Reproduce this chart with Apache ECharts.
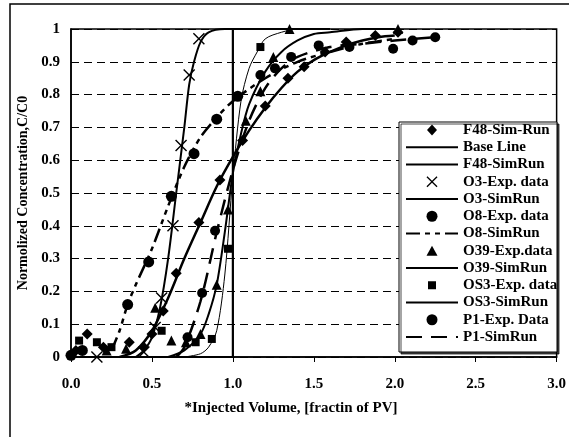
<!DOCTYPE html>
<html>
<head>
<meta charset="utf-8">
<script src="https://cdn.jsdelivr.net/npm/echarts@6/dist/echarts.min.js"></script>
<style>
  html, body { margin: 0; padding: 0; background: #fff; }
  #chart { width: 569px; height: 437px; }
</style>
</head>
<body>
<div id="chart"></div>
<script>
var xTicks = [0, 0.5, 1.0, 1.5, 2.0, 2.5, 3.0];
var yTicks = [0, 0.1, 0.2, 0.3, 0.4, 0.5, 0.6, 0.7, 0.8, 0.9, 1];

var f48Exp = [[0.03, 0.02], [0.1, 0.07], [0.2, 0.03], [0.36, 0.045], [0.45, 0.03], [0.5, 0.07],
  [0.57, 0.14], [0.65, 0.255], [0.79, 0.41], [0.92, 0.54], [1.06, 0.66], [1.2, 0.765],
  [1.34, 0.85], [1.44, 0.885], [1.57, 0.93], [1.7, 0.96], [1.88, 0.98], [2.02, 0.99]];
var baseLine = [[0, 0], [1.0, 0], [1.0, 1.0], [1.6, 1.0]];
var f48Sim = [[0.3, 0], [0.4, 0.02], [0.5, 0.08], [0.6, 0.18], [0.7, 0.3], [0.8, 0.41], [0.9, 0.52],
  [1.0, 0.61], [1.1, 0.69], [1.2, 0.76], [1.3, 0.82], [1.4, 0.87], [1.5, 0.905], [1.6, 0.93],
  [1.7, 0.95], [1.8, 0.965], [1.9, 0.975], [2.0, 0.98]];
var o3Exp = [[0.16, 0], [0.45, 0.015], [0.52, 0.09], [0.56, 0.18], [0.63, 0.4], [0.68, 0.645],
  [0.73, 0.86], [0.79, 0.97]];
var o3Sim = [[0.4, 0], [0.45, 0.02], [0.5, 0.06], [0.55, 0.15], [0.6, 0.3], [0.65, 0.5], [0.7, 0.7],
  [0.73, 0.83], [0.76, 0.9], [0.8, 0.96], [0.85, 0.99], [0.95, 1.0], [1.1, 1.0]];
var o8Exp = [[0.0, 0.005], [0.07, 0.02], [0.35, 0.16], [0.48, 0.29], [0.62, 0.49], [0.76, 0.62],
  [0.9, 0.725], [1.03, 0.795]];
var o8Sim = [[0.25, 0.02], [0.3, 0.08], [0.35, 0.16], [0.4, 0.22], [0.5, 0.33], [0.6, 0.46],
  [0.7, 0.58], [0.8, 0.67], [0.9, 0.73], [1.0, 0.78], [1.2, 0.85], [1.4, 0.9], [1.6, 0.93],
  [1.8, 0.955], [2.0, 0.97]];
var o39Exp = [[0.22, 0.02], [0.34, 0.025], [0.52, 0.15], [0.62, 0.05], [0.71, 0.045], [0.8, 0.07],
  [0.9, 0.22], [0.97, 0.45], [1.08, 0.72], [1.17, 0.81], [1.25, 0.915], [1.35, 1.0], [2.02, 1.0]];
var o39Sim = [[0.6, 0], [0.7, 0.02], [0.8, 0.07], [0.85, 0.13], [0.9, 0.22], [0.95, 0.38], [1.0, 0.56],
  [1.05, 0.68], [1.1, 0.77], [1.2, 0.87], [1.3, 0.93], [1.4, 0.965], [1.5, 0.985], [1.6, 0.99],
  [1.8, 1.0], [2.0, 1.0]];
var os3Exp = [[0.05, 0.05], [0.16, 0.045], [0.25, 0.03], [0.56, 0.08], [0.77, 0.045], [0.87, 0.055],
  [0.97, 0.33], [1.17, 0.945]];
var os3Sim = [[0.7, 0], [0.8, 0.01], [0.85, 0.03], [0.9, 0.08], [0.95, 0.25], [1.0, 0.55], [1.05, 0.78],
  [1.1, 0.88], [1.15, 0.93], [1.2, 0.97], [1.3, 0.99], [1.4, 1.0], [1.6, 1.0]];
var p1Exp = [[0.72, 0.06], [0.81, 0.195], [0.89, 0.385], [1.17, 0.86], [1.26, 0.88], [1.36, 0.915],
  [1.53, 0.95], [1.72, 0.945], [1.99, 0.94], [2.11, 0.965], [2.25, 0.975]];
var p1Sim = [[0.65, 0], [0.7, 0.03], [0.8, 0.17], [0.9, 0.38], [1.0, 0.57], [1.1, 0.72], [1.2, 0.82],
  [1.3, 0.88], [1.4, 0.915], [1.6, 0.945], [1.8, 0.955], [2.0, 0.965], [2.25, 0.975]];

var FONT = '"Liberation Serif", "Times New Roman", serif';
var crossPath = 'path://M0,1L1,0L6,5L11,0L12,1L7,6L12,11L11,12L6,7L1,12L0,11L5,6Z';
// legend icons padded to the 52x11 legend slot so the marker keeps its shape
var PAD = 'M0,0L0,0M52,11L52,11';
var legendIcons = {
  diamond: 'path://' + PAD + 'M26,0L31,5.5L26,11L21,5.5Z',
  triangle: 'path://' + PAD + 'M26,0.5L31.5,10.5L20.5,10.5Z',
  rect: 'path://' + PAD + 'M22,1.5L30,1.5L30,9.5L22,9.5Z'
};

var legendItems = [];

function simLine(name, data, width, type) {
  legendItems.push({ name: name, itemStyle: { color: 'rgba(0,0,0,0)', borderWidth: 0, opacity: 0 } });
  return {
    name: name, type: 'line', data: data, smooth: name !== 'Base Line' ? 0.3 : false,
    symbol: 'none', z: 2,
    lineStyle: { color: '#000', width: width, type: type || 'solid' },
    itemStyle: { color: '#000' }
  };
}
function expPoints(name, data, symbol, size) {
  var item = { name: name };
  if (legendIcons[symbol]) item.icon = legendIcons[symbol];
  legendItems.push(item);
  return {
    name: name, type: 'scatter', data: data, symbol: symbol, symbolSize: size, z: 3,
    symbolKeepAspect: true,
    itemStyle: { color: '#000', opacity: 1 }
  };
}

var series = [
  expPoints('F48-Sim-Run', f48Exp, 'diamond', 11),
  simLine('Base Line', baseLine, 2.2),
  simLine('F48-SimRun', f48Sim, 2.5),
  expPoints('O3-Exp. data', o3Exp, crossPath, 12),
  simLine('O3-SimRun', o3Sim, 2),
  expPoints('O8-Exp. data', o8Exp, 'circle', 11),
  simLine('O8-SimRun', o8Sim, 2.5, [14, 5, 5, 5, 5, 5]),
  expPoints('O39-Exp.data', o39Exp, 'triangle', 10),
  simLine('O39-SimRun', o39Sim, 2),
  expPoints('OS3-Exp. data', os3Exp, 'rect', 8),
  simLine('OS3-SimRun', os3Sim, 1),
  expPoints('P1-Exp. Data', p1Exp, 'circle', 10),
  simLine('P1-SimRun', p1Sim, 2.5, [16, 9])
];

var chart = echarts.init(document.getElementById('chart'), null, { renderer: 'canvas' });
chart.setOption({
  backgroundColor: '#fff',
  animation: false,
  grid: { left: 71, top: 29, right: 7, bottom: 80, show: true, borderColor: '#000', borderWidth: 1.5 },
  xAxis: {
    type: 'value', min: 0, max: 3, interval: 0.5,
    axisLine: { show: true, lineStyle: { color: '#000', width: 1.5 } },
    axisTick: { show: true, length: 5, lineStyle: { color: '#000' } },
    splitLine: { show: false },
    axisLabel: {
      margin: 20, color: '#000', fontFamily: FONT, fontWeight: 'bold', fontSize: 15,
      formatter: function (v) { return xTicks.indexOf(v) >= 0 ? v.toFixed(1) : ''; }
    }
  },
  yAxis: {
    type: 'value', min: 0, max: 1, interval: 0.1,
    name: 'Normolized Concentration,C/C0', nameLocation: 'middle', nameGap: 39,
    nameTextStyle: { color: '#000', fontFamily: FONT, fontWeight: 'bold', fontSize: 14 },
    axisLine: { show: true, lineStyle: { color: '#000', width: 1.5 } },
    axisTick: { show: false },
    splitLine: { show: true, lineStyle: { color: '#000', width: 1, type: [8, 5] } },
    axisLabel: {
      margin: 11, color: '#000', fontFamily: FONT, fontWeight: 'bold', fontSize: 15,
      formatter: function (v) {
        var r = Math.round(v * 10) / 10;
        return (r === 0 || r === 1) ? String(r) : r.toFixed(1);
      }
    }
  },
  legend: {
    orient: 'vertical', left: 405, top: 122.5, padding: 0,
    itemWidth: 52, itemHeight: 11, itemGap: 2.25, symbolKeepAspect: true,
    textStyle: { color: '#000', fontFamily: FONT, fontWeight: 'bold', fontSize: 15, lineHeight: 14 },
    data: legendItems
  },
  graphic: [
    { type: 'rect', z: 0, silent: true, shape: { x: 10, y: 4, width: 600, height: 500 },
      style: { fill: 'none', stroke: '#000', lineWidth: 1.5 } },
    { type: 'rect', z: 3, silent: true, shape: { x: 399, y: 122, width: 158, height: 230 },
      style: { fill: '#fff', stroke: '#000', lineWidth: 1, shadowColor: 'rgba(0,0,0,0.7)', shadowOffsetX: 2, shadowOffsetY: 2 } },
    { type: 'text', z: 5, silent: true, x: 291, y: 408,
      style: { text: '*Injected Volume, [fractin of PV]', fill: '#000', font: 'bold 15px ' + FONT,
        textAlign: 'center', textVerticalAlign: 'middle' } }
  ],
  series: series
});
</script>
</body>
</html>
